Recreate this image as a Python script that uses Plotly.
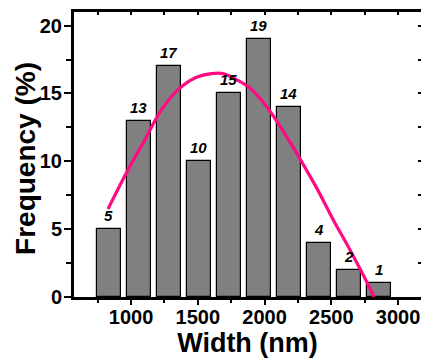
import plotly.graph_objects as go

# Histogram data (bin centres in nm, frequency in %)
bin_centers = [832.5, 1057.5, 1282.5, 1507.5, 1732.5, 1957.5, 2182.5, 2407.5, 2632.5, 2857.5]
frequency = [5, 13, 17, 10, 15, 19, 14, 4, 2, 1]

# Fitted curve, points
fit_x = [827, 977, 1103, 1228, 1352, 1478, 1603, 1690, 1765, 1890, 2015, 2140, 2265, 2390, 2515, 2640, 2765, 2820]
fit_y = [6.49, 9.37, 11.59, 13.80, 15.28, 16.14, 16.46, 16.46, 16.14, 15.40, 14.04, 12.20, 10.18, 8.04, 5.68, 3.47, 1.13, 0.0]

x_tick_vals = [1000, 1500, 2000, 2500, 3000]
y_tick_vals = [0, 5, 10, 15, 20]

FONT = "Liberation Sans, Arial, sans-serif"
XR = [572, 3172]
YR = [0, 21]

fig = go.Figure()
fig.add_trace(go.Bar(
    x=bin_centers, y=frequency, width=180,
    marker=dict(color="#808080", line=dict(color="black", width=1.2)),
    showlegend=False,
))
fig.add_trace(go.Scatter(
    x=fit_x, y=fit_y, mode="lines",
    line=dict(color="#ff0a80", width=3.2, shape="spline", smoothing=1.0),
    showlegend=False,
))
# invisible trace to anchor the mirrored tick axes
fig.add_trace(go.Scatter(x=[XR[0]], y=[YR[0]], xaxis="x2", yaxis="y2",
                         mode="markers", marker=dict(opacity=0), showlegend=False,
                         hoverinfo="skip"))

for xc, v in zip(bin_centers, frequency):
    fig.add_annotation(x=xc, y=v, xref="x", yref="y", text=f"<b><i>{v}</i></b>",
                       showarrow=False, yanchor="bottom", yshift=3,
                       font=dict(family=FONT, size=15, color="black"))

# y-axis title as a rotated annotation for exact placement
fig.add_annotation(x=-0.14, y=0.486, xref="paper", yref="paper", text="<b>Frequency (%)</b>",
                   showarrow=False, textangle=-90, xanchor="center", yanchor="middle",
                   font=dict(family=FONT, size=28, color="black"))

fig.update_layout(
    width=421, height=364,
    margin=dict(l=74, r=0, t=12, b=67, autoexpand=False),
    plot_bgcolor="white", paper_bgcolor="white",
    bargap=0,
    font=dict(family=FONT, color="black"),
    xaxis=dict(
        range=XR, tickvals=x_tick_vals, ticktext=[str(v) for v in x_tick_vals],
        ticks="outside", ticklen=5, tickwidth=2, tickcolor="black",
        minor=dict(ticks="outside", ticklen=3, tickwidth=2, dtick=250, tick0=750, tickcolor="black"),
        showline=True, linewidth=3, linecolor="black", mirror=True,
        showgrid=False, zeroline=False, automargin=False,
        ticklabelstandoff=-5,
        tickfont=dict(family=FONT, size=20, color="black", weight="bold"),
        title=dict(text="Width (nm)", font=dict(family=FONT, size=27, color="black", weight="bold"), standoff=4),
    ),
    yaxis=dict(
        range=YR, tickvals=y_tick_vals, ticktext=[str(v) for v in y_tick_vals],
        ticks="outside", ticklen=7, tickwidth=2, tickcolor="black",
        minor=dict(ticks="outside", ticklen=5, tickwidth=2, dtick=2.5, tick0=0, tickcolor="black"),
        showline=True, linewidth=3, linecolor="black", mirror=True,
        showgrid=False, zeroline=False, automargin=False,
        ticklabelstandoff=-2,
        tickfont=dict(family=FONT, size=20, color="black", weight="bold"),
    ),
    xaxis2=dict(
        overlaying="x", side="top", range=XR, matches="x", anchor="y",
        tickmode="linear", tick0=750, dtick=250,
        ticks="inside", ticklen=3, tickwidth=2, tickcolor="black",
        showticklabels=False, showgrid=False, zeroline=False, showline=False, automargin=False,
    ),
    yaxis2=dict(
        overlaying="y", side="right", range=YR, anchor="x",
        tickmode="linear", tick0=0, dtick=2.5,
        ticks="inside", ticklen=3, tickwidth=2, tickcolor="black",
        showticklabels=False, showgrid=False, zeroline=False, showline=False, automargin=False,
    ),
)

fig.write_html("out.html", config={"displayModeBar": False},
               post_script="document.body.style.margin='0';document.body.style.overflow='hidden';")
